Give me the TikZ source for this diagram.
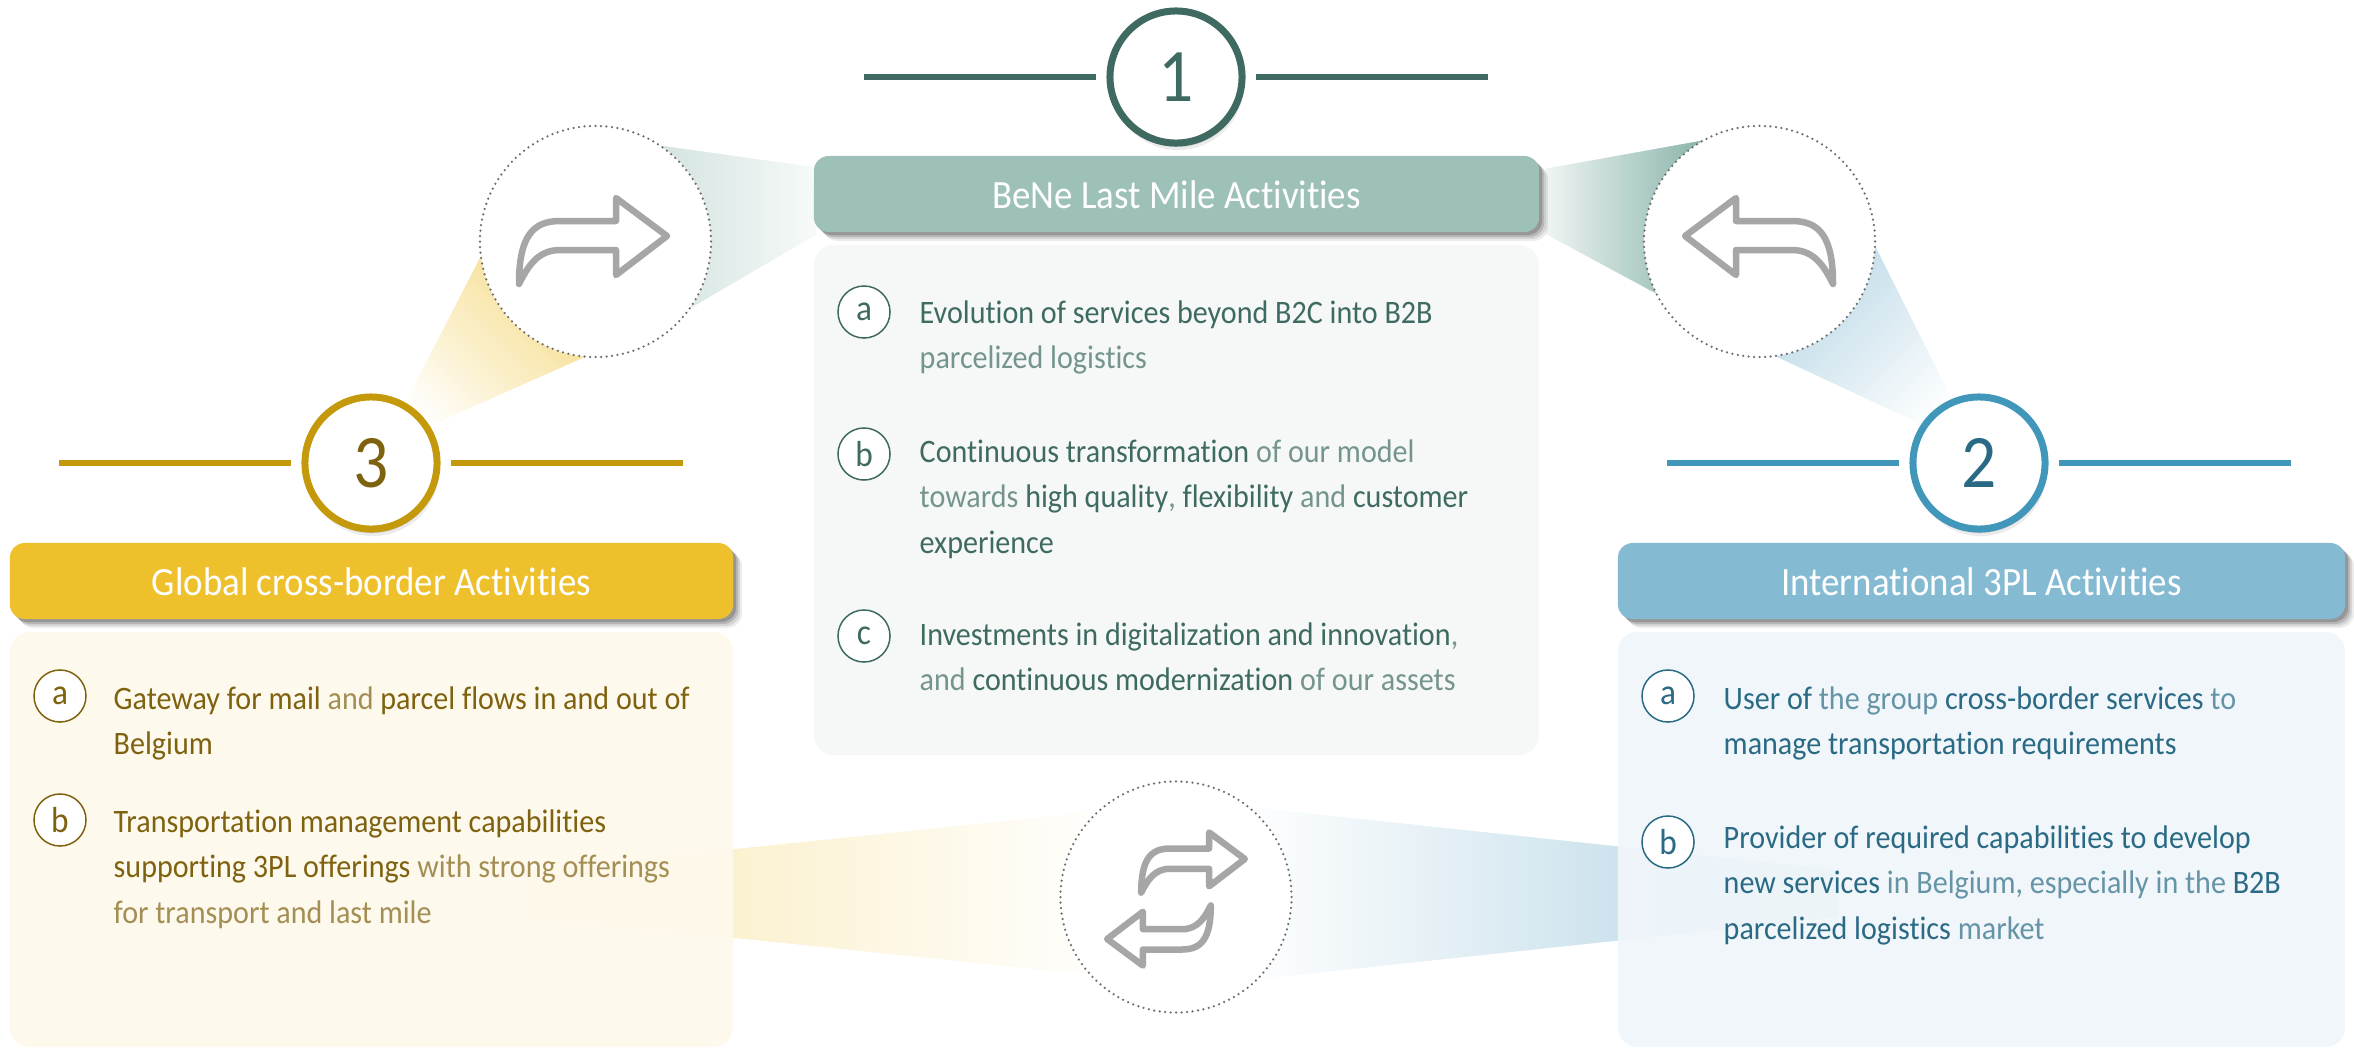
\documentclass[tikz,border=0pt]{standalone}
\usepackage{fontspec}
\setmainfont{Carlito}[Ligatures=NoCommon,FakeStretch=.92]
\usetikzlibrary{shadows}

\definecolor{teal_dark}{HTML}{3F6A62}
\definecolor{teal_head}{HTML}{9DC1B9}
\definecolor{teal_wedge}{HTML}{84B1A7}
\definecolor{teal_panel}{HTML}{F4F8F7}
\definecolor{gold_dark}{HTML}{7F6210}
\definecolor{gold_ring}{HTML}{C49A0C}
\definecolor{gold_head}{HTML}{EEC12C}
\definecolor{gold_panel}{HTML}{FEF9EC}
\definecolor{blue_dark}{HTML}{2A6A85}
\definecolor{blue_ring}{HTML}{4197BA}
\definecolor{blue_head}{HTML}{85BAD3}
\definecolor{blue_panel}{HTML}{F0F6FA}
\definecolor{icon_gray}{HTML}{A6A6A6}
\definecolor{dot_gray}{HTML}{6E6E6E}

\newcommand{\soft}[1]{{\color{.!72!white}#1}}

\begin{document}
\begin{tikzpicture}[
    x=0.01cm,y=-0.01cm,
    head_box/.style={rounded corners=.15cm,minimum width=7.25cm,minimum height=.76cm,inner sep=0pt,
        text=white,font=\fontsize{11.4}{14}\selectfont,text height=.28cm,text depth=0pt,
        drop shadow={shadow xshift=.09cm,shadow yshift=-.09cm,opacity=.07,fill=black},
        drop shadow={shadow xshift=.07cm,shadow yshift=-.07cm,opacity=.1,fill=black},
        drop shadow={shadow xshift=.05cm,shadow yshift=-.05cm,opacity=.14,fill=black},
        drop shadow={shadow xshift=.03cm,shadow yshift=-.03cm,opacity=.18,fill=black}},
    panel_box/.style={rounded corners=.2cm,minimum width=7.25cm,inner sep=0pt,fill opacity=.95},
    number_circle/.style={circle,fill=white,line width=.07cm,minimum size=1.32cm,inner sep=0pt,
        font=\fontsize{21.5}{24}\selectfont,
        drop shadow={shadow xshift=.02cm,shadow yshift=-.07cm,opacity=.08,fill=black},
        drop shadow={shadow xshift=.01cm,shadow yshift=-.04cm,opacity=.14,fill=black}},
    rule_line/.style={line width=.06cm},
    wedge_fill/.style={draw=white,line width=.04cm},
    item_circle/.style={circle,fill=white,line width=.015cm,minimum size=.52cm,inner sep=0pt,
        font=\fontsize{10.3}{12}\selectfont},
    item_text/.style={anchor=north west,align=left,inner sep=0pt,
        font=\fontsize{9.3}{12.9}\selectfont,execute at begin node=\strut},
    dotted_circle/.style={circle,fill=white,draw=dot_gray,line width=.025cm,line cap=round,
        dash pattern=on 0pt off .055cm,minimum size=2.31cm,inner sep=0pt},
    arrow_line/.style={draw=icon_gray,line width=.065cm,line join=round,line cap=round},
    curved_arrow/.pic={
        \draw[arrow_line] (-74,48) .. controls (-74,0) and (-60,-15) .. (-33,-15)
            -- (23,-15) -- (23,-38) -- (74,0) -- (23,39) -- (23,14) -- (-33,14)
            .. controls (-55,14) and (-65,30) .. cycle;
    }
]
\useasboundingbox (0,0) rectangle (2354,1048);

% Wedges behind the round icons
\draw[wedge_fill,left color=teal_head!45!white,right color=teal_head!8!white] (657,143) -- (814,165) -- (818,236) -- (688,312) -- cycle;
\draw[wedge_fill,left color=teal_head!15!white,right color=teal_wedge] (1543,167) -- (1710,137) -- (1658,297) -- (1543,235) -- cycle;
\draw[wedge_fill,top color=gold_head!55!white,bottom color=white,shading angle=-45] (480,253) -- (590,357) -- (392,445) -- (385,438) -- cycle;
\draw[wedge_fill,top color=blue_head!55!white,bottom color=white,shading angle=45] (1876,243) -- (1772,357) -- (1965,447) -- (1972,435) -- cycle;
\draw[wedge_fill,left color=gold_head!34!white,right color=white] (523,869) -- (1120,807) -- (1120,980) -- (523,918) -- cycle;
\draw[wedge_fill,left color=white,right color=blue_head!65!white] (1240,804) -- (1840,868) -- (1840,919) -- (1240,983) -- cycle;

% Panels and headers
\node[panel_box,fill=teal_panel,minimum height=5.10cm] (panel_one) at (1176.5,500) {};
\node[panel_box,fill=blue_panel,minimum height=4.15cm,minimum width=7.27cm] (panel_two) at (1981.5,839.5) {};
\node[panel_box,fill=gold_panel,minimum height=4.15cm,minimum width=7.23cm] (panel_three) at (371.5,839.5) {};
\node[head_box,fill=teal_head] (head_one) at (1176.5,194) {BeNe Last Mile Activities};
\node[head_box,fill=blue_head,minimum width=7.27cm] (head_two) at (1981.5,581) {International 3PL Activities};
\node[head_box,fill=gold_head,minimum width=7.23cm] (head_three) at (371.5,581) {Global cross-border Activities};

% Numbered circles with their rules
\foreach \name/\x/\y/\num/\ring/\ink in {one/1176/77/1/teal_dark/teal_dark, two/1979/463/2/blue_ring/blue_dark, three/371/463/3/gold_ring/gold_dark}
{
    \node[number_circle,draw=\ring,text=\ink] (num_\name) at (\x,\y) {\num};
    \draw[rule_line,draw=\ring] ([xshift=-.1cm]num_\name.west) -- ++(-232,0);
    \draw[rule_line,draw=\ring] ([xshift=.1cm]num_\name.east) -- ++(232,0);
}

% Round icons
\node[dotted_circle] (swap_left) at (595.5,241.5) {};
\node[dotted_circle] (swap_right) at (1759.5,241.5) {};
\node[dotted_circle] (swap_bottom) at (1176,897) {};
\pic at (593,236) {curved_arrow};
\pic[xscale=-1] at (1759,236) {curved_arrow};
\pic[scale=.7] at (1193,859) {curved_arrow};
\pic[scale=-.7] at (1159,939) {curved_arrow};

% Letters
\foreach \name/\x/\y/\txt/\ink in {
    a_one/864/312/a/teal_dark, b_one/864/454/b/teal_dark, c_one/864/636/c/teal_dark,
    a_two/1668/696/a/blue_dark, b_two/1668/842/b/blue_dark,
    a_three/60/696/a/gold_dark, b_three/60/820/b/gold_dark}
    \node[item_circle,draw=\ink,text=\ink] (item_\name) at (\x,\y) {\txt};

% Item texts
\node[item_text,text=teal_dark] (text_a_one) at (919,300) {Evolution of services beyond B2C into B2B\\\soft{parcelized logistics}};
\node[item_text,text=teal_dark] (text_b_one) at (919,439) {Continuous transformation \soft{of our model}\\\soft{towards} high quality\soft{,} flexibility \soft{and} customer\\experience};
\node[item_text,text=teal_dark] (text_c_one) at (919,622) {Investments in digitalization and innovation\soft{,}\\\soft{and} continuous modernization \soft{of our assets}};
\node[item_text,text=gold_dark] (text_a_three) at (113,686) {Gateway for mail \soft{and} parcel flows in and out of\\Belgium};
\node[item_text,text=gold_dark] (text_b_three) at (113,809) {Transportation management capabilities\\supporting 3PL offerings \soft{with strong offerings}\\\soft{for transport and last mile}};
\node[item_text,text=blue_dark] (text_a_two) at (1723,686) {User of \soft{the group} cross-border services \soft{to}\\manage transportation requirements};
\node[item_text,text=blue_dark] (text_b_two) at (1723,825) {Provider of required capabilities to develop\\new services \soft{in Belgium, especially in the} B2B\\parcelized logistics \soft{market}};

\end{tikzpicture}
\end{document}
